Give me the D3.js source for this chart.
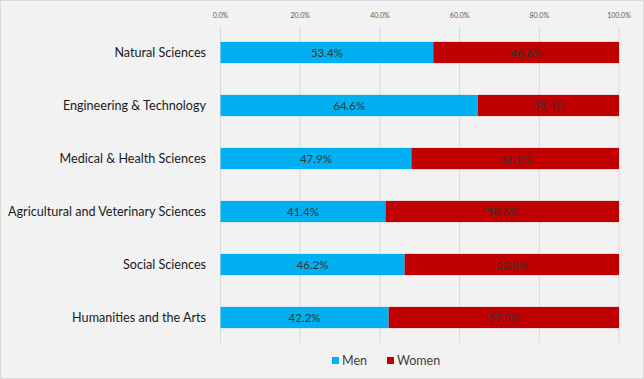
<!DOCTYPE html>
<meta charset='utf-8'>
<head>
    <title>Men and Women by Field</title>
    <script src='https://cdn.jsdelivr.net/npm/d3@7'></script>
</head>

<style>
    body { margin: 0; background: #fff; }
    svg { font-family: Lato, 'Open Sans', sans-serif; }
    .grid line { stroke: #d9d9d9; stroke-width: 1px; }
    .tick-label { fill: #595959; font-size: 7px; }
    .cat-label { fill: #1a1a1a; font-size: 12.6px; }
    .val-label { fill: #333333; font-size: 11.5px; }
    .legend text { fill: #404040; font-size: 12.5px; }
</style>

<svg></svg>

<script>
    var vWidth = 644;
    var vHeight = 379;

    var vFields = ['Natural Sciences', 'Engineering & Technology', 'Medical & Health Sciences',
        'Agricultural and Veterinary Sciences', 'Social Sciences', 'Humanities and the Arts'];
    var vMen = [53.4, 64.6, 47.9, 41.4, 46.2, 42.2];
    var vWomen = [46.6, 35.4, 52.1, 58.6, 53.8, 57.8];
    var vSeries = ['Men', 'Women'];
    var vTicks = [0, 20, 40, 60, 80, 100];
    var vColours = ['#00b0f0', '#c00000'];

    var svg = d3.select('svg').attr('width', vWidth).attr('height', vHeight);

    // background + border
    svg.append('rect').attr('x', 0.5).attr('y', 0.5).attr('width', vWidth - 1).attr('height', vHeight - 1)
        .attr('fill', '#f2f2f2').attr('stroke', '#d9d9d9');

    var x = d3.scaleLinear().domain([0, 100]).range([220.5, 619]);
    var y = d3.scaleBand().domain(vFields).range([26, 344]).paddingInner(0.6).paddingOuter(0.3);

    // gridlines
    svg.append('g').attr('class', 'grid').selectAll('line').data(vTicks).enter().append('line')
        .attr('x1', function (d) { return x(d); }).attr('x2', function (d) { return x(d); })
        .attr('y1', 27).attr('y2', 343);

    svg.append('g').selectAll('text').data(vTicks).enter().append('text')
        .attr('class', 'tick-label')
        .attr('x', function (d) { return x(d); }).attr('y', 18)
        .attr('text-anchor', 'middle')
        .text(function (d) { return d.toFixed(1) + '%'; });

    // stacked data
    var vRows = vFields.map(function (f, i) { return { field: f, Men: vMen[i], Women: vWomen[i] }; });
    var vStack = d3.stack().keys(vSeries)(vRows);

    var layers = svg.append('g').selectAll('g').data(vStack).enter().append('g')
        .attr('fill', function (d, i) { return vColours[i]; });

    layers.selectAll('rect').data(function (d) { return d; }).enter().append('rect')
        .attr('x', function (d) { return x(d[0]); })
        .attr('width', function (d) { return x(d[1]) - x(d[0]); })
        .attr('y', function (d) { return y(d.data.field); })
        .attr('height', y.bandwidth());

    layers.selectAll('text').data(function (d) { return d; }).enter().append('text')
        .attr('class', 'val-label')
        .attr('x', function (d) { return (x(d[0]) + x(d[1])) / 2; })
        .attr('y', function (d) { return y(d.data.field) + y.bandwidth() / 2; })
        .attr('dy', '0.35em')
        .attr('text-anchor', 'middle')
        .text(function (d) { return (d[1] - d[0]).toFixed(1) + '%'; });

    // category labels
    svg.append('g').selectAll('text').data(vFields).enter().append('text')
        .attr('class', 'cat-label')
        .attr('x', 206)
        .attr('y', function (d) { return y(d) + y.bandwidth() / 2; })
        .attr('dy', '0.35em')
        .attr('text-anchor', 'end')
        .text(function (d) { return d; });

    // legend
    var vLegendX = [332, 387];
    var legend = svg.append('g').attr('class', 'legend').selectAll('g').data(vSeries).enter().append('g')
        .attr('transform', function (d, i) { return 'translate(' + vLegendX[i] + ',361)'; });
    legend.append('rect').attr('x', 0).attr('y', -4).attr('width', 7).attr('height', 7)
        .attr('fill', function (d, i) { return vColours[i]; });
    legend.append('text').attr('x', 10).attr('dy', '0.35em').text(function (d) { return d; });
</script>
